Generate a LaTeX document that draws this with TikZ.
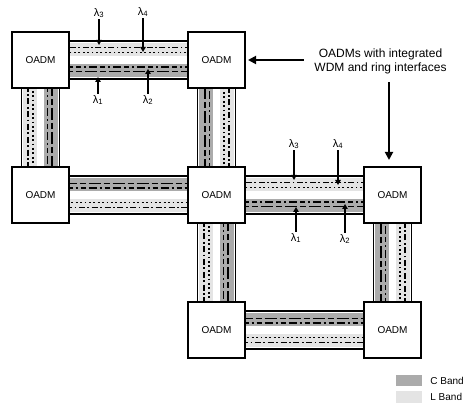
\documentclass[tikz,border=0pt]{standalone}
\usepackage{fontspec}
\setmainfont{Liberation Sans}
\usetikzlibrary{arrows.meta,positioning,calc}
\definecolor{cbandgray}{HTML}{ABABAB}
\definecolor{lbandgray}{HTML}{E4E4E4}
\pgfdeclarelayer{background}
\pgfsetlayers{background,main}
\tikzset{
  oadm/.style={
    draw,
    line width=1.5pt,
    fill=white,
    minimum width=57pt,
    minimum height=56pt,
    inner sep=0pt,
    outer sep=0pt,
    font=\normalsize
  },
  bandfill/.style={line width=13.5pt},
  rail/.style={line width=1.7pt, draw=black},
  chan/.style={line width=1.9pt, draw=black},
  ldashed/.style={chan, dash pattern=on 6pt off 2.5pt on 1.8pt off 2.5pt},
  ldotted/.style={chan, dash pattern=on 1.8pt off 2.6pt},
  cdashed/.style={chan, dash pattern=on 8pt off 3pt on 2pt off 3pt on 5pt off 3pt},
  clong/.style={chan, dash pattern=on 12pt off 3pt on 6pt off 3pt},
  lam/.style={inner sep=1pt, font=\fontsize{11}{13}\selectfont},
  lamarrow/.style={-{Triangle[length=5pt,width=5.5pt]}, line width=1.3pt},
  arrow/.style={-{Triangle[length=8pt,width=8pt]}, line width=1.8pt},
  note/.style={align=center, font=\large},
  swatch/.style={minimum width=26pt, inner sep=0pt},
  legend/.style={font=\normalsize, inner sep=0pt}
}
% one line parallel to #1--#2, offset #3 to the left
\newcommand{\fiberpart}[4]{%
  \draw[#4] ($(#1)!#3!90:(#2)$) -- ($(#2)!#3!-90:(#1)$);}
% fibre pair: C band on the left of #1->#2, L band on the right
\newcommand{\fiberlink}[2]{%
  \begin{pgfonlayer}{background}
    \fiberpart{#1}{#2}{10.5pt}{bandfill, draw=cbandgray}
    \fiberpart{#1}{#2}{-10.5pt}{bandfill, draw=lbandgray}
    \fiberpart{#1}{#2}{19pt}{rail}
    \fiberpart{#1}{#2}{-19pt}{rail}
    \fiberpart{#1}{#2}{-12.5pt}{ldashed}
    \fiberpart{#1}{#2}{-7.5pt}{ldotted}
    \fiberpart{#1}{#2}{7pt}{cdashed}
    \fiberpart{#1}{#2}{11.5pt}{clong}
  \end{pgfonlayer}}

\begin{document}
\begin{tikzpicture}[x=1pt, y=1pt, node distance=79pt and 119pt]
\useasboundingbox (0,0) rectangle (466,-406);

% nodes
\node[oadm] (a1) at (40.5,-60) {OADM};
\node[oadm, right=of a1] (a2) {OADM};
\node[oadm, below=of a1] (b1) {OADM};
\node[oadm, right=of b1] (b2) {OADM};
\node[oadm, right=of b2] (b3) {OADM};
\node[oadm, below=of b2] (c2) {OADM};
\node[oadm, right=of c2] (c3) {OADM};

% rings
\fiberlink{a1}{b1}
\fiberlink{b1}{b2}
\fiberlink{b2}{a2}
\fiberlink{a2}{a1}
\fiberlink{b2}{c2}
\fiberlink{c2}{c3}
\fiberlink{c3}{b3}
\fiberlink{b3}{b2}

% wavelengths, upper ring
\node[lam] (lam3a) at (99,-13) {λ\textsubscript{3}};
\node[lam] (lam4a) at (143,-12) {λ\textsubscript{4}};
\node[lam] (lam1a) at (98,-100) {λ\textsubscript{1}};
\node[lam] (lam2a) at (148,-100) {λ\textsubscript{2}};
\coordinate (tip3a) at (99,-45);
\coordinate (tip4a) at (143,-52);
\coordinate (tip1a) at (98,-77);
\coordinate (tip2a) at (148,-69);
\draw[lamarrow] (lam3a) -- (tip3a);
\draw[lamarrow] (lam4a) -- (tip4a);
\draw[lamarrow] (lam1a) -- (tip1a);
\draw[lamarrow] (lam2a) -- (tip2a);

% wavelengths, lower ring
\node[lam] (lam3b) at (294,-144) {λ\textsubscript{3}};
\node[lam] (lam4b) at (338,-144) {λ\textsubscript{4}};
\node[lam] (lam1b) at (296,-238) {λ\textsubscript{1}};
\node[lam] (lam2b) at (345,-239) {λ\textsubscript{2}};
\coordinate (tip3b) at (294,-180);
\coordinate (tip4b) at (338,-185);
\coordinate (tip1b) at (296,-207);
\coordinate (tip2b) at (345,-204);
\draw[lamarrow] (lam3b) -- (tip3b);
\draw[lamarrow] (lam4b) -- (tip4b);
\draw[lamarrow] (lam1b) -- (tip1b);
\draw[lamarrow] (lam2b) -- (tip2b);

% annotation
\node[note] (note) at (380.5,-61) {OADMs with integrated\\WDM and ring interfaces};
\draw[arrow, shorten >=3pt] ([xshift=-7pt]note.west |- a2.east) -- (a2.east);
\coordinate (b3top) at ([xshift=-3.5pt]b3.north);
\draw[arrow, shorten <=5pt, shorten >=7pt] (note.south -| b3top) -- (b3top);

% legend
\node[swatch, minimum height=11pt, fill=cbandgray] (cswatch) at (409,-380.5) {};
\node[swatch, minimum height=12pt, fill=lbandgray] (lswatch) at (409,-397) {};
\node[legend, right=8pt of cswatch] (clabel) {C Band};
\node[legend, right=8pt of lswatch] (llabel) {L Band};
\end{tikzpicture}
\end{document}
